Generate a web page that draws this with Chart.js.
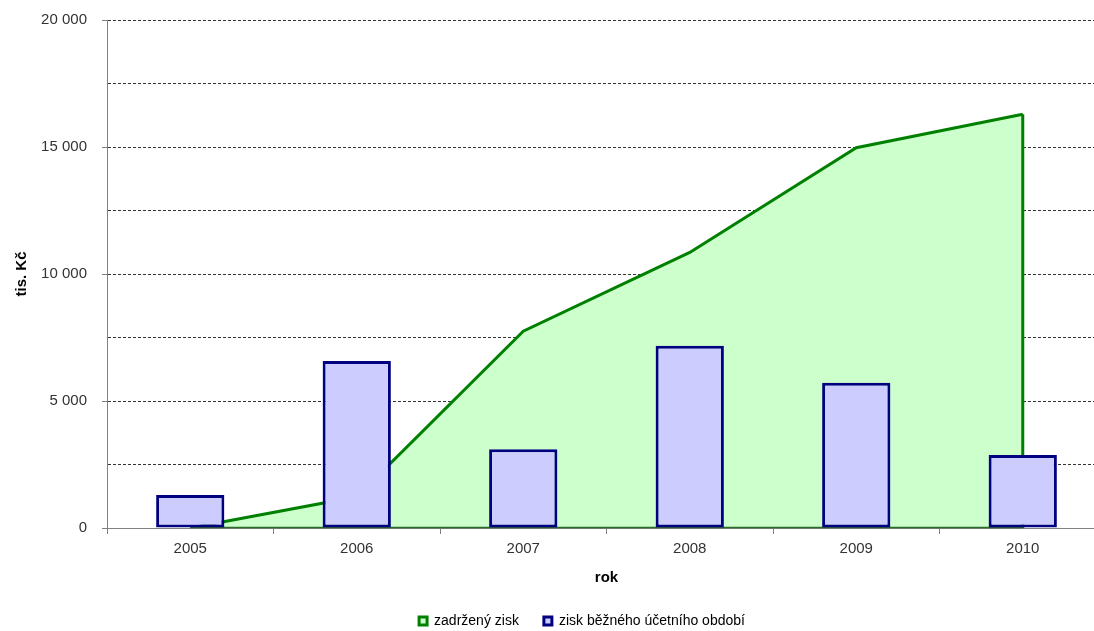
<!DOCTYPE html>
<html lang="cs">
<head>
<meta charset="utf-8">
<title>Zadržený zisk a zisk běžného účetního období</title>
<script src="https://cdn.jsdelivr.net/npm/chart.js@4/dist/chart.umd.min.js"></script>
<style>
    html, body {
        margin: 0;
        padding: 0;
        background: #ffffff;
        overflow: hidden;
    }
    #chart {
        display: block;
    }
</style>
</head>
<body>
<canvas id="chart" width="1164" height="638"></canvas>
<script>
// Data (tis. Kč)
const years = ['2005', '2006', '2007', '2008', '2009', '2010'];
const retainedProfit = [0, 1230, 7750, 10850, 14970, 16290];   // zadržený zisk
const currentProfit = [1300, 6570, 3100, 7180, 5720, 2870];    // zisk běžného účetního období
const yTicks = [0, 5000, 10000, 15000, 20000];

const FONT = "'Liberation Sans', Arial, sans-serif";

// 20000 -> "20 000"
function formatThousands(value) {
    return String(value).replace(/\B(?=(\d{3})+(?!\d))/g, ' ');
}

// Excel draws the whole outline of the area, including the drop to zero at the end
const areaOutline = {
    id: 'areaOutline',
    afterDatasetDraw(chart, args) {
        if (args.index !== 0) return;
        const points = args.meta.data;
        const first = points[0];
        const last = points[points.length - 1];
        const zeroY = chart.scales.y.getPixelForValue(0);
        const ctx = chart.ctx;
        ctx.save();
        ctx.strokeStyle = '#008000';
        ctx.lineWidth = 3;
        ctx.beginPath();
        ctx.moveTo(last.x, last.y);
        ctx.lineTo(last.x, zeroY);
        ctx.stroke();
        // bottom edge sits on the axis, looks thinner there
        ctx.lineWidth = 1.5;
        ctx.strokeStyle = '#2d6b2d';
        ctx.beginPath();
        ctx.moveTo(last.x, zeroY - 0.5);
        ctx.lineTo(first.x, zeroY - 0.5);
        ctx.stroke();
        ctx.restore();
    }
};

// legend in the original is centred on the (wider) whole chart, not the visible part
const legendShift = {
    id: 'legendShift',
    afterLayout(chart) {
        chart.legend.left += 29;
        chart.legend.right += 29;
    }
};

const ctx = document.getElementById('chart').getContext('2d');

const chart = new Chart(ctx, {
    type: 'bar',
    data: {
        labels: years,
        datasets: [
            {
                type: 'line',
                label: 'zadržený zisk',
                data: retainedProfit,
                backgroundColor: '#CCFFCC',
                borderColor: '#008000',
                borderWidth: 3,
                fill: 'origin',
                tension: 0,
                pointRadius: 0,
                order: 2
            },
            {
                type: 'bar',
                label: 'zisk běžného účetního období',
                data: currentProfit,
                backgroundColor: '#CCCCFF',
                borderColor: '#000080',
                borderWidth: 3,
                borderSkipped: false,
                barPercentage: 0.41,
                categoryPercentage: 1.0,
                order: 1
            }
        ]
    },
    options: {
        responsive: false,
        animation: false,
        layout: {
            padding: { top: 20, right: 58, bottom: 0, left: 0 }
        },
        plugins: {
            tooltip: { enabled: false },
            legend: {
                position: 'bottom',
                labels: {
                    font: { family: FONT, size: 14 },
                    color: '#000000',
                    boxWidth: 8,
                    boxHeight: 8,
                    padding: 25,
                    sort: (a, b) => a.datasetIndex - b.datasetIndex
                }
            }
        },
        scales: {
            x: {
                offset: true,
                grid: {
                    drawOnChartArea: false,
                    drawTicks: true,
                    tickLength: 6,
                    tickColor: '#808080'
                },
                border: { color: '#808080', width: 1 },
                ticks: {
                    font: { family: FONT, size: 15 },
                    color: '#333333',
                    padding: 6,
                    maxRotation: 0,
                    autoSkip: false
                },
                title: {
                    display: true,
                    text: 'rok',
                    font: { family: FONT, size: 15, weight: 'bold' },
                    color: '#000000',
                    padding: { top: 0, bottom: 2 }
                },
                afterFit(scale) {
                    scale.height = 61;
                    scale.paddingLeft = 0;
                    scale.paddingRight = 0;
                }
            },
            y: {
                min: 0,
                max: 20000,
                grid: {
                    color: (c) => c.tick && c.tick.value === 0 ? 'transparent' : '#333333',
                    lineWidth: 1,
                    tickLength: 5,
                    tickColor: (c) => c.tick && yTicks.includes(c.tick.value) ? '#808080' : 'transparent'
                },
                border: { color: '#808080', width: 1, dash: [3, 2] },
                ticks: {
                    stepSize: 2500,
                    autoSkip: false,
                    font: { family: FONT, size: 15 },
                    color: '#333333',
                    padding: 15,
                    callback: (value) => yTicks.includes(value) ? formatThousands(value) : ''
                },
                title: {
                    display: true,
                    text: 'tis. Kč',
                    font: { family: FONT, size: 15, weight: 'bold' },
                    color: '#000000',
                    padding: { top: 13, bottom: 4 }
                },
                afterFit(scale) {
                    scale.width = 107;
                    scale.paddingTop = 0;
                    scale.paddingBottom = 0;
                }
            }
        }
    },
    plugins: [areaOutline, legendShift]
});
</script>
</body>
</html>
